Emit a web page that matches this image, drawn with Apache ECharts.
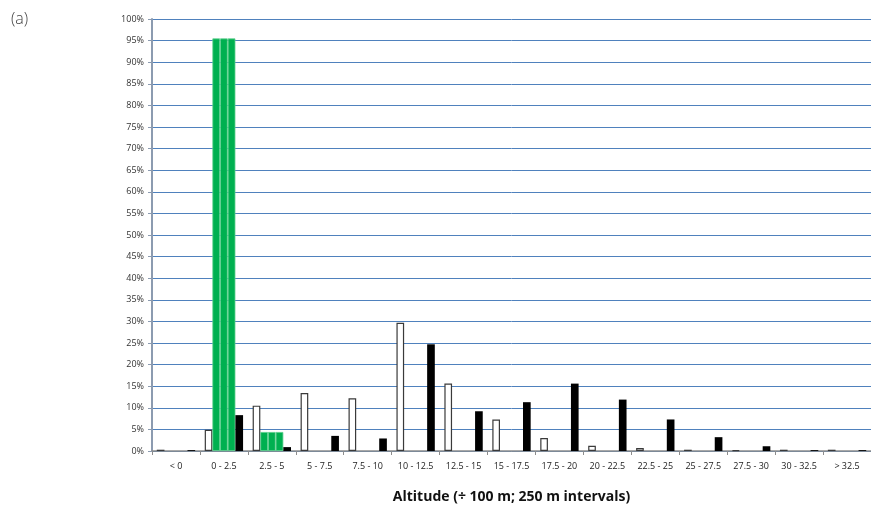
<!DOCTYPE html>
<html>
<head>
<meta charset="utf-8">
<script src="https://cdn.jsdelivr.net/npm/echarts@6/dist/echarts.min.js"></script>
<style>html,body{margin:0;padding:0;background:#fff;}#c{width:871px;height:508px;}</style>
</head>
<body>
<div id="c"></div>
<script>
var categories = ["< 0", "0 - 2.5", "2.5 - 5", "5 - 7.5", "7.5 - 10", "10 - 12.5", "12.5 - 15", "15 - 17.5", "17.5 - 20", "20 - 22.5", "22.5 - 25", "25 - 27.5", "27.5 - 30", "30 - 32.5", "> 32.5"];
var whiteValues = [0.3, 4.9, 10.5, 13.4, 12.2, 29.7, 15.6, 7.3, 3.0, 1.2, 0.7, 0.3, 0.2, 0.3, 0.3];
var greenValuesA = [0, 95.5, 4.4, 0, 0, 0, 0, 0, 0, 0, 0, 0, 0, 0, 0];
var greenValuesB = [0, 95.5, 4.4, 0, 0, 0, 0, 0, 0, 0, 0, 0, 0, 0, 0];
var greenValuesC = [0, 95.5, 4.4, 0, 0, 0, 0, 0, 0, 0, 0, 0, 0, 0, 0];
var blackValues = [0.2, 8.3, 0.9, 3.5, 2.9, 24.7, 9.2, 11.3, 15.6, 11.9, 7.3, 3.2, 1.1, 0.2, 0.2];
var xAxisTitle = "Altitude (÷ 100 m; 250 m intervals)";
var panelLabel = "(a)";

var chart = echarts.init(document.getElementById('c'), null, {renderer: 'canvas'});
var font = "'Open Sans', 'Noto Sans', sans-serif";
function hideZero(arr) { return arr.map(function (v) { return v === 0 ? null : v; }); }
function greenSeries(data) {
  return {type: 'bar', data: hideZero(data), barGap: '0%', barCategoryGap: '20%',
    itemStyle: {color: '#00b050', borderColor: '#5fd08f', borderWidth: 0.8}};
}
chart.setOption({
  animation: false,
  title: {text: panelLabel, left: 6, top: 6, textStyle: {fontFamily: font, fontSize: 16, fontWeight: 300, color: '#444'}},
  grid: {left: 152, right: 0, top: 19, bottom: 57, outerBoundsMode: 'none', containLabel: false},
  xAxis: {
    type: 'category', data: categories,
    name: xAxisTitle, nameLocation: 'middle', nameGap: 39,
    nameTextStyle: {fontFamily: font, fontSize: 14, fontWeight: 'bold', color: '#111'},
    axisLine: {lineStyle: {color: '#8c8c8c', width: 1.5}},
    axisTick: {show: true, length: 4, lineStyle: {color: '#8c8c8c'}},
    axisLabel: {interval: 0, fontFamily: font, fontSize: 9, color: '#222', margin: 11}
  },
  yAxis: {
    type: 'value', min: 0, max: 100, interval: 5,
    axisLine: {show: true, lineStyle: {color: '#8c9bb0', width: 2}},
    axisTick: {show: true, length: 4, lineStyle: {color: '#8c9bb0'}},
    axisLabel: {formatter: '{value}%', fontFamily: font, fontSize: 9, color: '#333', margin: 8},
    splitLine: {lineStyle: {color: '#4f81bd', width: 1}}
  },
  series: [
    {type: 'bar', data: whiteValues, barGap: '0%', barCategoryGap: '20%',
      itemStyle: {color: '#ffffff', borderColor: '#3a3a3a', borderWidth: 1.2}},
    greenSeries(greenValuesA),
    greenSeries(greenValuesB),
    greenSeries(greenValuesC),
    {type: 'bar', data: blackValues, barGap: '0%', barCategoryGap: '20%',
      itemStyle: {color: '#000000'}}
  ]
});
</script>
</body>
</html>
